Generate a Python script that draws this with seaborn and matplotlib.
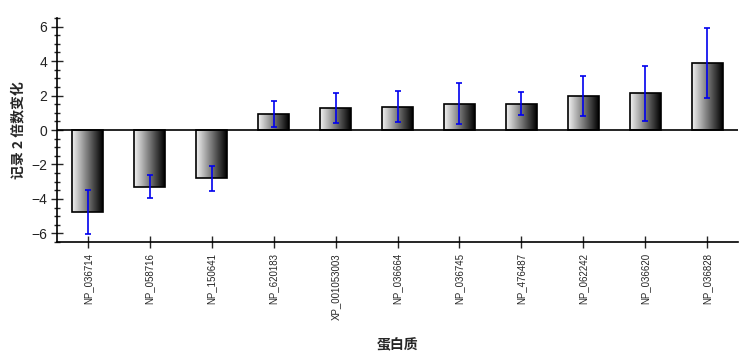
import numpy as np
import pandas as pd
import matplotlib
matplotlib.use("Agg")
import matplotlib.pyplot as plt
from matplotlib.ticker import MultipleLocator
import seaborn as sns

# --- data ---
proteins = ["NP_036714", "NP_058716", "NP_150641", "NP_620183", "XP_001053003",
            "NP_036664", "NP_036745", "NP_476487", "NP_062242", "NP_036620", "NP_036828"]
fold_change = [-4.74, -3.29, -2.81, 0.94, 1.29, 1.36, 1.53, 1.53, 1.98, 2.12, 3.88]
error = [1.27, 0.68, 0.74, 0.74, 0.86, 0.92, 1.18, 0.65, 1.15, 1.62, 2.03]

df = pd.DataFrame({"protein": proteins, "fc": fold_change, "err": error})

sns.set_style("white")
plt.rcParams["font.family"] = ["Liberation Sans", "Noto Sans CJK SC"]
cjk = ["Noto Sans CJK SC", "DejaVu Sans"]

fig = plt.figure(figsize=(7.54, 3.56), dpi=100)
ax = fig.add_axes([57 / 754, 1 - 242 / 356, 681 / 754, 224 / 356])

sns.barplot(data=df, x="protein", y="fc", ax=ax, width=0.5,
            color="white", edgecolor="black", linewidth=1.2, zorder=2)

# gradient fill inside each bar (light left -> dark right)
grad = np.linspace(0.95, 0.0, 256).reshape(1, -1)
for patch in ax.patches:
    x0, y0 = patch.get_x(), patch.get_y()
    w, h = patch.get_width(), patch.get_height()
    im = ax.imshow(grad, cmap="gray", vmin=0, vmax=1, aspect="auto",
                   extent=[x0, x0 + w, min(y0, y0 + h), max(y0, y0 + h)],
                   zorder=2.5, interpolation="bilinear")
    im.set_clip_path(patch)
    patch.set_zorder(3)
    patch.set_facecolor("none")

ax.errorbar(range(len(proteins)), fold_change, yerr=error, fmt="none",
            ecolor="#0000ee", elinewidth=1.2, capsize=2.5, capthick=1.2, zorder=4)

ax.axhline(0, color="black", linewidth=1.2, zorder=3.5)

ax.set_xlim(-0.5, len(proteins) - 0.5)
ax.set_ylim(-6.5, 6.5)
ax.yaxis.set_major_locator(MultipleLocator(2))
ax.yaxis.set_minor_locator(MultipleLocator(0.5))

for s in ["top", "right"]:
    ax.spines[s].set_visible(False)
for s in ["left", "bottom"]:
    ax.spines[s].set_linewidth(1.2)
    ax.spines[s].set_color("black")

ax.tick_params(axis="y", which="major", direction="inout", length=8, width=1,
               labelsize=10, pad=3, left=True)
ax.tick_params(axis="y", which="minor", direction="inout", length=5, width=1, left=True)
ax.tick_params(axis="x", which="major", direction="inout", length=8, width=1,
               labelsize=7, pad=4, bottom=True)
plt.setp(ax.get_xticklabels(), rotation=90, va="top", ha="center")
plt.setp(ax.get_yticklabels(), color="#222222")

ax.set_xlabel("蛋白质", family=cjk, fontsize=10, fontweight="bold", labelpad=10)
ax.set_ylabel("记录 2 倍数变化", family=cjk, fontsize=10, fontweight="bold", labelpad=4)
ax.xaxis.set_label_coords(0.5, 1 - (338 - 18) / 224 - 0.0, transform=ax.transAxes)

plt.savefig("out.png", dpi=100)
plt.close()
